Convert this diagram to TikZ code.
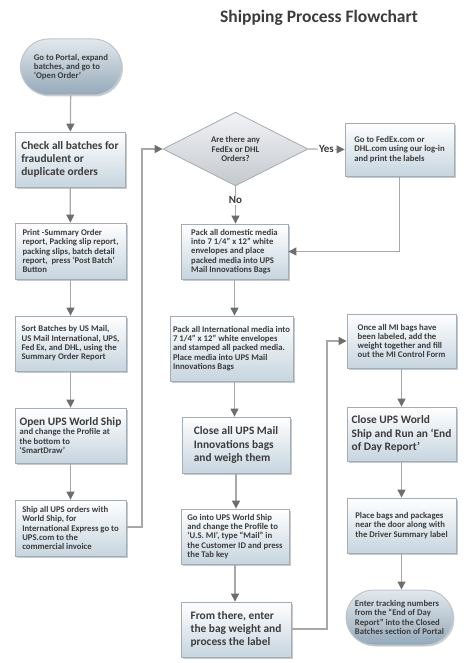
\documentclass[tikz,border=0pt]{standalone}
\usepackage{fontspec}
\setmainfont{Carlito}
\usetikzlibrary{shapes.geometric,shapes.misc,shadows,arrows.meta}
\definecolor{txt}{HTML}{3C3C3C}
\definecolor{bord}{HTML}{A4ACB4}
\definecolor{boxbot}{HTML}{C6D5DF}
\definecolor{termtop}{HTML}{E2E9EE}
\definecolor{termbot}{HTML}{94A9B9}
\definecolor{diatop}{HTML}{F2F3F5}
\definecolor{diabot}{HTML}{C4C9CE}
\definecolor{linec}{HTML}{A8A8A8}
\definecolor{tipc}{HTML}{6E6E6E}
\newcommand{\smallf}{\fontsize{8.7}{9.3}\selectfont\bfseries}
\newcommand{\bigf}{\fontsize{11.4}{13.3}\selectfont\bfseries}
\tikzset{
  every node/.style={text=txt},
  stepbox/.style={rectangle, draw=bord, line width=0.8pt, top color=white, bottom color=boxbot,
    drop shadow={shadow xshift=2pt, shadow yshift=-2pt, opacity=0.35, fill=black!60},
    align=left, inner xsep=3pt, inner ysep=2pt, font=\smallf},
  termbox/.style={rounded rectangle, draw=bord!70!white, line width=1pt, top color=termtop, bottom color=termbot,
    drop shadow={shadow xshift=1.5pt, shadow yshift=-1.5pt, opacity=0.3, fill=black!60},
    align=left, inner xsep=4pt, font=\smallf},
  decbox/.style={diamond, draw=bord, line width=0.8pt, top color=diatop, bottom color=diabot,
    align=center, inner sep=0pt, font=\smallf},
  flow/.style={draw=linec, line width=1.2pt, -{Triangle[length=8pt,width=8pt,fill=tipc,color=tipc]}},
  lbl/.style={font=\fontsize{11}{12}\selectfont\bfseries, fill=white, inner sep=1pt}
}
\begin{document}
\begin{tikzpicture}[x=1pt,y=-1pt]
\useasboundingbox (0,0) rectangle (474,663);
\fill[white] (0,0) rectangle (474,663);
\node[font=\fontsize{17.5}{19}\selectfont\bfseries] (title) at (319,18) {Shipping Process Flowchart};

% left column
\node[termbox, minimum width=109pt, minimum height=56pt] (start) at (71,67)
  {Go to Portal, expand\\batches, and go to\\`Open Order'};
\node[stepbox, minimum width=110pt, minimum height=55pt, font=\bigf] (check) at (70,159.5)
  {Check all batches for\\fraudulent or\\duplicate orders};
\node[stepbox, minimum width=111pt, minimum height=56pt] (print) at (70.5,251)
  {Print -Summary Order\\report, Packing slip report,\\packing slips, batch detail\\report,\ \ press `Post Batch'\\Button};
\node[stepbox, minimum width=111pt, minimum height=55pt] (sort) at (70.5,343.5)
  {Sort Batches by US Mail,\\US Mail International, UPS,\\Fed Ex, and DHL, using the\\Summary Order Report};
\node[stepbox, minimum width=111pt, minimum height=55pt] (openups) at (70.5,435.5)
  {{\bigf Open UPS World Ship}\\and change the Profile at\\the bottom to\\`SmartDraw'};
\node[stepbox, minimum width=111pt, minimum height=56pt] (shipall) at (70.5,528)
  {Ship all UPS orders with\\World Ship, for\\International Express go to\\UPS.com to the\\commercial invoice};

% decision
\node[decbox, minimum width=145pt, minimum height=72pt] (dec) at (235.5,149)
  {Are there any\\FedEx or DHL\\Orders?};
\node[stepbox, minimum width=109pt, minimum height=53pt] (fedex) at (399.5,149.5)
  {Go to FedEx.com or\\DHL.com using our log-in\\and print the labels};

% middle column
\node[stepbox, minimum width=107pt, minimum height=55pt] (packdom) at (234.5,251.5)
  {Pack all domestic media\\into 7 1/4'' x 12'' white\\envelopes and place\\packed media into UPS\\Mail Innovations Bags};
\node[stepbox, minimum width=121pt, minimum height=65pt] (packint) at (231.5,348.5)
  {Pack all International media into\\7 1/4'' x 12'' white envelopes\\and stamped all packed media.\\Place media into UPS Mail\\Innovations Bags};
\node[stepbox, minimum width=108pt, minimum height=56pt, font=\bigf] (closemail) at (236,445)
  {Close all UPS Mail\\Innovations bags\\and weigh them};
\node[stepbox, minimum width=108pt, minimum height=55pt] (gointo) at (235,536.5)
  {Go into UPS World Ship\\and change the Profile to\\`U.S. MI', type ``Mail'' in\\the Customer ID and press\\the Tab key};
\node[stepbox, minimum width=110pt, minimum height=55pt, font=\bigf] (fromthere) at (236,629.5)
  {From there, enter\\the bag weight and\\process the label};

% right column
\node[stepbox, minimum width=109pt, minimum height=54pt] (oncemi) at (401.5,341)
  {Once all MI bags have\\been labeled, add the\\weight together and fill\\out the MI Control Form};
\node[stepbox, minimum width=109pt, minimum height=54pt, font=\bigf] (closeworld) at (401.5,434)
  {Close UPS World\\Ship and Run an `End\\of Day Report'};
\node[stepbox, minimum width=109pt, minimum height=55pt] (placebags) at (401.5,525.5)
  {Place bags and packages\\near the door along with\\the Driver Summary label};
\node[termbox, minimum width=115pt, minimum height=55pt] (finish) at (399.5,617.5)
  {Enter tracking numbers\\from the ``End of Day\\Report'' into the Closed\\Batches section of Portal};

% connectors
\coordinate (c1) at (142,527);
\coordinate (c2) at (327,629);
\draw[flow] (start) -- (check);
\draw[flow] (check) -- (print);
\draw[flow] (print) -- (sort);
\draw[flow] (sort) -- (openups);
\draw[flow] (openups) -- (shipall);
\draw[flow] (shipall.east |- c1) -| (c1) |- (dec.west);
\draw[flow] (dec.east) -- node[lbl, pos=0.5] (yes) {Yes} (fedex.west);
\draw[flow] (dec.south) -- node[lbl, pos=0.38] (no) {No} (dec.south |- packdom.north);
\draw[flow] (fedex.south) |- (packdom.east);
\draw[flow] (packdom.south) -- (packdom.south |- packint.north);
\draw[flow] (packdom.south |- packint.south) -- (packdom.south |- closemail.north);
\draw[flow] (closemail.south) -- (closemail.south |- gointo.north);
\draw[flow] (gointo.south) -- (gointo.south |- fromthere.north);
\draw[flow] (fromthere.east |- c2) -| (c2) |- (oncemi.west);
\draw[flow] (oncemi.south) -- (oncemi.south |- closeworld.north);
\draw[flow] (closeworld.south) -- (closeworld.south |- placebags.north);
\draw[flow] (placebags.south) -- (placebags.south |- finish.north);
\end{tikzpicture}
\end{document}
